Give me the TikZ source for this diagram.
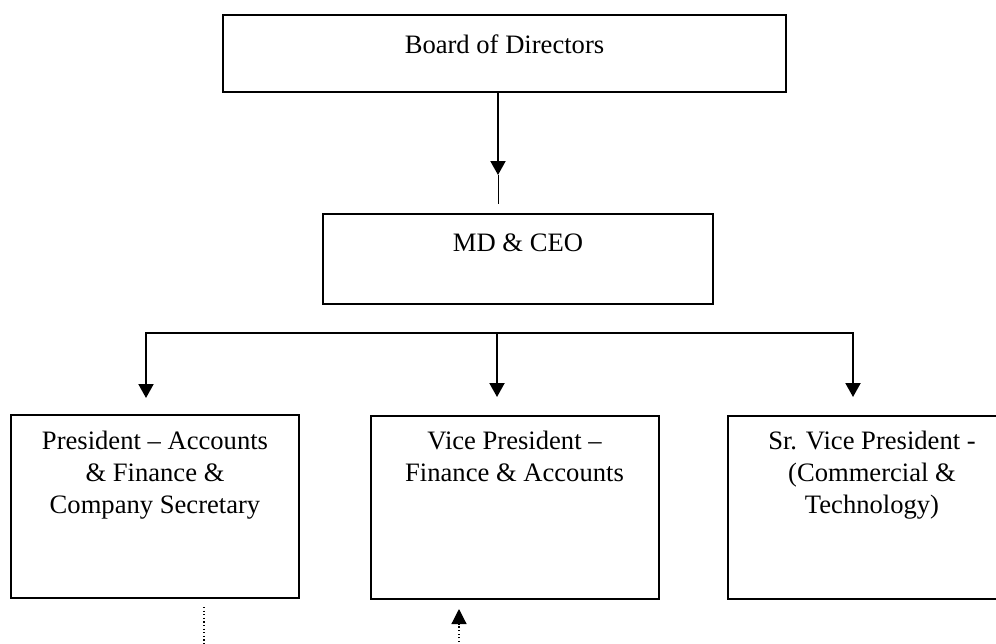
\documentclass[tikz,border=0pt]{standalone}
\usepackage{fontspec}
\setmainfont{Liberation Serif}
\usetikzlibrary{arrows.meta}
\begin{document}
\begin{tikzpicture}[x=0.5pt,y=-0.5pt,font=\fontsize{13.3pt}{16pt}\selectfont]
\useasboundingbox (0,0) rectangle (996,643);
\clip (0,0) rectangle (996,643);
\tikzstyle{box}=[draw,line width=1pt,inner sep=0pt,minimum width=144pt,minimum height=91.5pt];
\tikzstyle{txt}=[anchor=north,inner sep=0pt,align=center];
\tikzstyle{arr}=[line width=1pt,-{Triangle[length=7pt,width=7.5pt]}];
\tikzstyle{dots}=[line width=0.6pt,dash pattern=on 0.6pt off 1.2pt];
\node[box,minimum width=281.5pt,minimum height=38.5pt] (board) at (504.5,53.5) {};
\node[txt,yshift=-10pt] (boardtxt) at (board.north) {Board of Directors};
\node[box,minimum width=195pt,minimum height=45pt] (md) at (518,259) {};
\node[txt,yshift=-10pt] (mdtxt) at (md.north) {MD \& CEO};
\node[box] (pres) at (155,506.5) {};
\node[txt,yshift=-8.3pt] (prestxt) at (pres.north) {President \textendash{} Accounts\\ \& Finance \&\\ Company Secretary};
\node[box] (vp) at (514.5,507) {};
\node[txt,yshift=-8.3pt] (vptxt) at (vp.north) {Vice President \textendash\\ Finance \& Accounts};
\node[box] (svp) at (872,507) {};
\node[txt,yshift=-8.3pt] (svptxt) at (svp.north) {Sr. Vice President -\\ (Commercial \&\\ Technology)};
\coordinate (mdtip) at (498,175);
\coordinate (mdend) at (498,204);
\coordinate (split) at (497,333);
\coordinate (ptip) at (146,398);
\coordinate (vtip) at (497,397);
\coordinate (stip) at (853,397);
\coordinate (pdot) at (204,607);
\coordinate (pout) at (204,660);
\coordinate (vdot) at (459,609);
\coordinate (vin) at (459,660);
\draw[arr] (board.south -| mdtip) -- (mdtip);
\draw[line width=0.5pt] (mdtip) -- (mdend);
\draw[arr] (split) -| (ptip);
\draw[arr] (split) -- (vtip);
\draw[arr] (split) -| (stip);
\draw[dots] (pdot) -- (pout);
\draw[dots,-{Triangle[length=7.5pt,width=7.5pt]}] (vin) -- (vdot);
\end{tikzpicture}
\end{document}
